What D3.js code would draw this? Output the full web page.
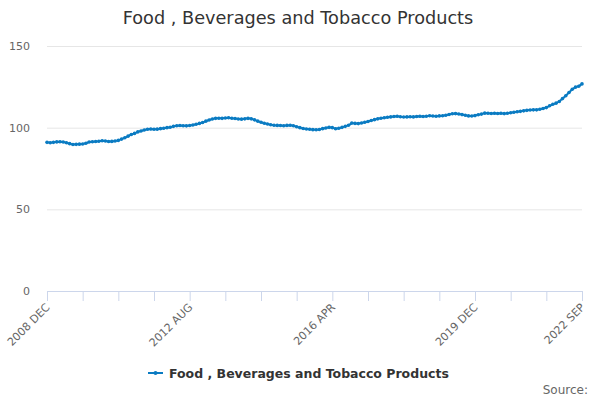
<!DOCTYPE html>
<html>
<head>
<meta charset="utf-8">
<script src="https://cdn.jsdelivr.net/npm/d3@7"></script>
<style>
  html, body { margin: 0; padding: 0; background: #fff; }
  svg { display: block; font-family: "DejaVu Sans", sans-serif; }
</style>
</head>
<body>
<svg id="chart" width="600" height="400"></svg>
<script>
const title = "Food , Beverages and Tobacco Products";
const seriesName = "Food , Beverages and Tobacco Products";
const startYear = 2008, startMonth = 11; // December 2008
const monthNames = ["JAN","FEB","MAR","APR","MAY","JUN","JUL","AUG","SEP","OCT","NOV","DEC"];
const values = [
  91.0, 90.8, 91.0, 91.3, 91.4, 91.2, 90.8, 90.2, 89.7, 89.8,
  89.9, 90.0, 90.5, 91.2, 91.4, 91.5, 91.7, 92.0, 91.8, 91.5,
  91.6, 91.8, 92.2, 93.0, 93.8, 94.8, 95.8, 96.5, 97.4, 98.0,
  98.6, 99.0, 99.2, 99.0, 99.1, 99.4, 99.6, 100.0, 100.3, 100.8,
  101.2, 101.3, 101.2, 101.1, 101.3, 101.6, 102.1, 102.6, 103.2, 104.0,
  104.7, 105.3, 105.7, 105.8, 105.7, 105.9, 106.1, 105.8, 105.6, 105.3,
  105.2, 105.4, 105.7, 105.4, 104.8, 104.0, 103.3, 102.7, 102.2, 101.8,
  101.5, 101.4, 101.3, 101.2, 101.4, 101.5, 101.2, 100.6, 100.0, 99.5,
  99.2, 99.0, 98.8, 98.7, 98.9, 99.4, 99.8, 100.2, 100.0, 99.3,
  99.6, 100.2, 100.8, 101.5, 102.8, 102.6, 102.5, 102.9, 103.3, 103.8,
  104.4, 104.9, 105.4, 105.8, 106.1, 106.4, 106.6, 106.8, 107.0, 106.7,
  106.5, 106.6, 106.7, 106.6, 106.8, 107.0, 106.8, 107.0, 107.3, 107.1,
  107.0, 107.2, 107.3, 107.6, 108.1, 108.5, 108.6, 108.4, 108.0, 107.6,
  107.2, 107.1, 107.4, 107.9, 108.3, 108.9, 108.8, 108.7, 108.8, 108.7,
  108.8, 108.6, 108.8, 109.1, 109.4, 109.7, 110.0, 110.3, 110.6, 110.8,
  110.9, 110.9, 111.3, 111.7, 112.3, 113.4, 114.3, 115.0, 116.0, 117.8,
  119.5, 121.5, 123.5, 124.8, 125.4, 126.8
];
const categories = values.map((v, i) => {
  const m = startMonth + i;
  return (startYear + Math.floor(m / 12)) + " " + monthNames[m % 12];
});
const yTicks = [0, 50, 100, 150];
const tickEvery = 11;
const labelEvery = 44;

const svg = d3.select("#chart");
const m = { left: 47, right: 582, top: 46, bottom: 291 };

const x = d3.scalePoint().domain(categories).range([m.left, m.right]);
const y = d3.scaleLinear().domain([0, 150]).range([m.bottom, m.top]);

// title
svg.append("text")
  .attr("x", 298).attr("y", 24)
  .attr("text-anchor", "middle")
  .attr("fill", "#333333")
  .style("font-size", "17.7px")
  .text(title);

// gridlines + y labels
const yAxis = d3.axisLeft(y).tickValues(yTicks).tickSize(-(m.right - m.left)).tickPadding(17);
const gy = svg.append("g").attr("transform", `translate(${m.left},0)`).call(yAxis);
gy.select(".domain").remove();
gy.selectAll(".tick line").attr("stroke", "#e6e6e6").attr("stroke-width", 1);
gy.selectAll(".tick text").attr("fill", "#666666").style("font-size", "11px").attr("font-family", "DejaVu Sans, sans-serif");

// x axis
const tickCats = categories.filter((c, i) => i % tickEvery === 0);
const labelCats = new Set(categories.filter((c, i) => i % labelEvery === 0 || i === categories.length - 1));
const xAxis = d3.axisBottom(x).tickValues(tickCats).tickSize(10).tickFormat(d => labelCats.has(d) ? d : "");
const gx = svg.append("g").attr("transform", `translate(0,${m.bottom})`).call(xAxis);
gx.select(".domain").attr("stroke", "#ccd6eb").attr("d", `M${m.left},0.5H${m.right}`);
gx.selectAll(".tick line").attr("stroke", "#ccd6eb");
gx.selectAll(".tick text")
  .attr("fill", "#666666")
  .style("font-size", "11px")
  .attr("font-family", "DejaVu Sans, sans-serif")
  .attr("text-anchor", "end")
  .attr("dy", null)
  .attr("y", 0)
  .attr("transform", "translate(3,17) rotate(-45)");

// line
const color = "#0a7bc2";
const line = d3.line().x((d, i) => x(categories[i])).y(d => y(d));
svg.append("path")
  .datum(values)
  .attr("fill", "none")
  .attr("stroke", color)
  .attr("stroke-width", 2)
  .attr("d", line);
svg.append("g").selectAll("circle")
  .data(values)
  .join("circle")
  .attr("cx", (d, i) => x(categories[i]))
  .attr("cy", d => y(d))
  .attr("r", 1.8)
  .attr("fill", color);

// legend
const lg = svg.append("g").attr("transform", "translate(148,373)");
lg.append("line").attr("x1", 0).attr("x2", 15).attr("y1", 0).attr("y2", 0)
  .attr("stroke", color).attr("stroke-width", 2);
lg.append("circle").attr("cx", 7.5).attr("cy", 0).attr("r", 2).attr("fill", color);
lg.append("text").attr("x", 21).attr("y", 5)
  .attr("fill", "#333333")
  .style("font-size", "12.5px").style("font-weight", "bold")
  .text(seriesName);

// credits
svg.append("text").attr("x", 588).attr("y", 394)
  .attr("text-anchor", "end").attr("fill", "#666666")
  .style("font-size", "12px")
  .text("Source:");
</script>
</body>
</html>
